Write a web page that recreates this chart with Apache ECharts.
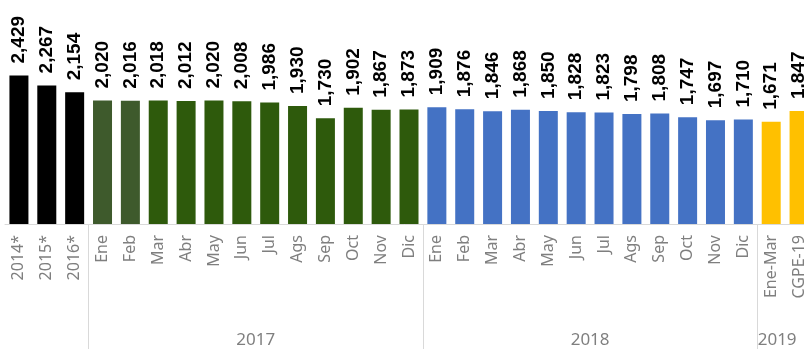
<!DOCTYPE html>
<html>
<head>
<meta charset="utf-8">
<script src="https://cdn.jsdelivr.net/npm/echarts@6/dist/echarts.min.js"></script>
<style>
  html, body { margin: 0; padding: 0; background: #ffffff; }
  #chart { width: 804px; height: 349px; }
</style>
</head>
<body>
<div id="chart"></div>
<script>
// Annual averages followed by monthly values
const yearLabels = ['2014*', '2015*', '2016*'];
const yearValues = [2429, 2267, 2154];

const months = ['Ene', 'Feb', 'Mar', 'Abr', 'May', 'Jun', 'Jul', 'Ags', 'Sep', 'Oct', 'Nov', 'Dic'];
const values2017 = [2020, 2016, 2018, 2012, 2020, 2008, 1986, 1930, 1730, 1902, 1867, 1873];
const values2018 = [1909, 1876, 1846, 1868, 1850, 1828, 1823, 1798, 1808, 1747, 1697, 1710];

const labels2019 = ['Ene-Mar', 'CGPE-19'];
const values2019 = [1671, 1847];

// Period groups shown on the lower axis
const groupNames = ['2017', '2018', '2019'];
const groupSizes = [months.length, months.length, labels2019.length];

const categories = [].concat(yearLabels, months, months, labels2019);
const values = [].concat(yearValues, values2017, values2018, values2019);

// Bar colours per block
function barColor(i) {
  if (i < 3) return '#000000';
  if (i < 5) return '#3e5a2c';
  if (i < 15) return '#2e5a0c';
  if (i < 27) return '#4472c4';
  return '#ffc000';
}

// Group axis: one slot per category boundary (boundaryGap: false)
const boundaries = [];
const groupAxis = new Array(categories.length + 1).fill('');
let start = yearLabels.length;
groupNames.forEach((g, k) => {
  boundaries.push(start);
  groupAxis[start + groupSizes[k] / 2] = g;
  start += groupSizes[k];
});
const lastGroup = groupNames[groupNames.length - 1];

const groupFont = { color: '#7f7f7f', fontSize: 17, fontFamily: 'Noto Sans' };

const chart = echarts.init(document.getElementById('chart'), null, { renderer: 'canvas' });

chart.setOption({
  animation: false,
  backgroundColor: '#ffffff',
  grid: {
    left: 5, width: 808, top: 10, bottom: 125,
    containLabel: false,
    outerBoundsMode: 'none'
  },
  xAxis: [
    {
      type: 'category',
      data: categories,
      position: 'bottom',
      axisLine: { show: true, lineStyle: { color: '#d9d9d9', width: 1 } },
      axisTick: { show: false },
      axisLabel: {
        interval: 0,
        rotate: 90,
        margin: 11,
        color: '#7f7f7f',
        fontSize: 16,
        fontFamily: 'Noto Sans'
      }
    },
    {
      type: 'category',
      data: groupAxis,
      position: 'bottom',
      boundaryGap: false,
      axisLine: { show: false },
      axisTick: {
        show: true,
        length: 125,
        interval: (i) => boundaries.indexOf(i) !== -1,
        lineStyle: { color: '#d9d9d9', width: 1 }
      },
      axisLabel: Object.assign({
        interval: 0,
        margin: 108,
        verticalAlign: 'top',
        // the last group is cut by the right edge, so keep its name inside
        formatter: (v) => (v === lastGroup ? '{edge|' + v + '}' : v),
        rich: { edge: Object.assign({ padding: [0, 16, 0, 0] }, groupFont) }
      }, groupFont)
    }
  ],
  yAxis: {
    type: 'value',
    min: 0,
    max: 3500,
    show: false,
    splitLine: { show: false }
  },
  series: [{
    type: 'bar',
    xAxisIndex: 0,
    barWidth: 19,
    data: values.map((v, i) => ({ value: v, itemStyle: { color: barColor(i) } })),
    label: {
      show: true,
      position: 'top',
      rotate: 90,
      align: 'left',
      verticalAlign: 'middle',
      distance: 12,
      color: '#000000',
      fontSize: 19,
      fontWeight: 'bold',
      fontFamily: 'Liberation Sans',
      formatter: (p) => p.value.toLocaleString('en-US')
    }
  }]
});
</script>
</body>
</html>
